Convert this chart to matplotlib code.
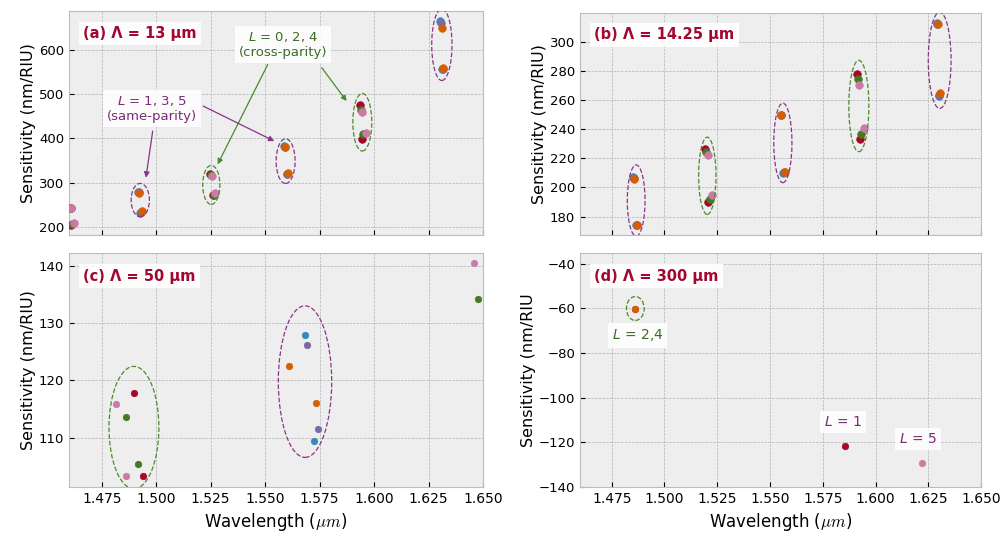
import matplotlib
matplotlib.use('Agg')
import matplotlib.pyplot as plt
from matplotlib.patches import Ellipse

# bmh colour cycle -> mode order L = 0..5
mode_colors = ['#348ABD', '#A60628', '#7A68A6', '#467821', '#D55E00', '#CC79A7']

# (a) Lambda = 13 um
a_wl = [1.4918, 1.4928, 1.5586, 1.5599, 1.6303, 1.6313,
        1.4609, 1.4610, 1.5246, 1.5260, 1.5935, 1.5946,
        1.4921, 1.4931, 1.5589, 1.5602, 1.6306, 1.6316,
        1.4606, 1.4612, 1.5250, 1.5264, 1.5940, 1.5951,
        1.4923, 1.4934, 1.5591, 1.5604, 1.6310, 1.6318,
        1.4611, 1.4622, 1.5256, 1.5270, 1.5946, 1.5964]
a_sens = [279.7, 232.4, 381.8, 319.4, 663.9, 555.2,
          243.5, 205.0, 319.4, 271.4, 474.7, 397.6,
          278.0, 234.0, 380.5, 320.5, 658.7, 557.0,
          243.0, 207.0, 317.0, 273.0, 463.5, 410.3,
          277.5, 235.4, 379.5, 321.6, 649.0, 559.0,
          244.0, 210.0, 314.9, 275.9, 459.0, 412.6]
a_mode = [0] * 6 + [1] * 6 + [2] * 6 + [3] * 6 + [4] * 6 + [5] * 6

# (b) Lambda = 14.25 um
b_wl = [1.4853, 1.4866, 1.5550, 1.5564, 1.6290, 1.6299,
        1.5191, 1.5208, 1.5911, 1.5925,
        1.4855, 1.4869, 1.5552, 1.5568, 1.6293, 1.6303,
        1.5197, 1.5214, 1.5916, 1.5930,
        1.4856, 1.4872, 1.5553, 1.5571, 1.6295, 1.6307,
        1.5205, 1.5224, 1.5921, 1.5944]
b_sens = [207.0, 174.5, 250.0, 209.9, 313.0, 262.7,
          226.2, 189.9, 277.9, 233.5,
          206.5, 174.4, 249.7, 210.3, 312.5, 263.7,
          224.2, 192.0, 274.4, 236.6,
          206.1, 174.3, 249.4, 210.8, 312.0, 264.8,
          222.1, 195.0, 270.3, 240.7]
b_mode = [0] * 6 + [1] * 4 + [2] * 6 + [3] * 4 + [4] * 6 + [5] * 4

# (c) Lambda = 50 um
c_wl = [1.5683, 1.5723, 1.4900, 1.4941, 1.5692, 1.5741,
        1.4862, 1.4918, 1.6478, 1.5608, 1.5732, 1.4814, 1.4862, 1.6459]
c_sens = [127.9, 109.4, 117.9, 103.3, 126.1, 111.6,
          113.6, 105.4, 134.2, 122.5, 116.1, 115.9, 103.3, 140.4]
c_mode = [0, 0, 1, 1, 2, 2, 3, 3, 3, 4, 4, 5, 5, 5]

# (d) Lambda = 300 um
d_wl = [1.5856, 1.4860, 1.4861, 1.6220]
d_sens = [-121.4, -60.2, -60.1, -129.3]
d_mode = [1, 2, 4, 5]

xticks = [1.475, 1.500, 1.525, 1.550, 1.575, 1.600, 1.625, 1.650]

GREEN = '#4b8a2c'
PURPLE = '#8a3486'
GREEN_TXT = '#3d6b25'
PURPLE_TXT = '#7a2a78'
TITLE_RED = '#a3062f'

plt.style.use('bmh')

fig = plt.figure(figsize=(10.03, 5.34), dpi=100)
ax_a = fig.add_axes([0.0688, 0.5599, 0.4128, 0.4195])
ax_b = fig.add_axes([0.5783, 0.5599, 0.3998, 0.4163])
ax_c = fig.add_axes([0.0688, 0.0880, 0.4128, 0.4388])
ax_d = fig.add_axes([0.5783, 0.0880, 0.3998, 0.4388])

panels = [
    (ax_a, a_wl, a_sens, a_mode, 30, '(a) Λ = 13 μm', 'Sensitivity (nm/RIU)'),
    (ax_b, b_wl, b_sens, b_mode, 30, '(b) Λ = 14.25 μm', 'Sensitivity (nm/RIU)'),
    (ax_c, c_wl, c_sens, c_mode, 22, '(c) Λ = 50 μm', 'Sensitivity (nm/RIU)'),
    (ax_d, d_wl, d_sens, d_mode, 22, '(d) Λ = 300 μm', 'Sensitivity (nm/RIU'),
]

for ax, wl, sens, mode, size, label, ylab in panels:
    for L in range(6):
        xs = [w for w, m in zip(wl, mode) if m == L]
        ys = [s for s, m in zip(sens, mode) if m == L]
        if xs:
            ax.scatter(xs, ys, s=size, color=mode_colors[L], zorder=3)
    ax.set_xlim(1.46, 1.65)
    ax.set_xticks(xticks)
    ax.set_ylabel(ylab, fontsize=11.5, labelpad=2)
    ax.tick_params(labelsize=9.5)
    ax.text(0.035, 0.9, label, transform=ax.transAxes, fontsize=10.5, fontweight='bold',
            color=TITLE_RED, va='center', ha='left', zorder=5,
            bbox=dict(boxstyle='square,pad=0.3', fc='white', ec='none', alpha=0.9))

ax_d.set_ylim(-140, -35)

for ax in (ax_a, ax_b):
    ax.tick_params(labelbottom=False)
for ax in (ax_c, ax_d):
    ax.set_xlabel(r'Wavelength ($\mu m$)', fontsize=12)
    ax.tick_params(axis='x', labelsize=10)

# grouping ellipses (centre x, centre y, width, height, colour)
ell_a = [(1.4927, 260.8, 0.0084, 75.0, PURPLE), (1.5253, 295.0, 0.0079, 87.8, GREEN),
         (1.5594, 348.6, 0.0087, 100.7, PURPLE), (1.5946, 436.2, 0.0087, 129.9, GREEN),
         (1.6311, 611.0, 0.0093, 161.5, PURPLE)]
ell_b = [(1.4866, 191.0, 0.0084, 48.9, PURPLE), (1.5203, 208.0, 0.0082, 53.0, GREEN),
         (1.5561, 230.6, 0.0086, 54.6, PURPLE), (1.5921, 255.9, 0.0095, 62.7, GREEN),
         (1.6304, 287.3, 0.0108, 66.1, PURPLE)]
ell_c = [(1.4898, 111.8, 0.0229, 21.3, GREEN), (1.5683, 119.8, 0.0245, 26.4, PURPLE)]
ell_d = [(1.4862, -60.0, 0.0084, 10.7, GREEN)]

for ax, ells in ((ax_a, ell_a), (ax_b, ell_b), (ax_c, ell_c), (ax_d, ell_d)):
    for cx, cy, w, h, col in ells:
        ax.add_patch(Ellipse((cx, cy), w, h, fill=False, ec=col, ls='--', lw=0.9, zorder=4))

box = dict(boxstyle='square,pad=0.3', fc='white', ec='none', alpha=0.85)

# (a) annotations
ax_a.text(1.5583, 611.4, '$L$ = 0, 2, 4\n(cross-parity)', ha='center', va='center', fontsize=9.5,
          color=GREEN_TXT, bbox=box, math_fontfamily='dejavusans', zorder=5)
ax_a.text(1.4980, 466.6, '$L$ = 1, 3, 5\n(same-parity)', ha='center', va='center', fontsize=9.5,
          color=PURPLE_TXT, bbox=box, math_fontfamily='dejavusans', zorder=5)
arrows_a = [((1.5512, 566.4), (1.5282, 341.2), GREEN), ((1.5760, 559.0), (1.5874, 483.8), GREEN),
            ((1.4984, 416.2), (1.4953, 311.2), PURPLE), ((1.5216, 472.5), (1.5542, 393.7), PURPLE)]
for start, end, col in arrows_a:
    ax_a.annotate('', xy=end, xytext=start,
                  arrowprops=dict(arrowstyle='-|>', color=col, lw=0.9, mutation_scale=8,
                                  shrinkA=0, shrinkB=0), zorder=4)

# (d) annotations
ax_d.text(1.4872, -72.1, '$L$ = 2,4', ha='center', va='center', fontsize=10, color=GREEN_TXT,
          bbox=box, math_fontfamily='dejavusans', zorder=5)
ax_d.text(1.5847, -110.9, '$L$ = 1', ha='center', va='center', fontsize=10, color=PURPLE_TXT,
          bbox=box, math_fontfamily='dejavusans', zorder=5)
ax_d.text(1.6201, -118.4, '$L$ = 5', ha='center', va='center', fontsize=10, color=PURPLE_TXT,
          bbox=box, math_fontfamily='dejavusans', zorder=5)

fig.savefig('out.png', dpi=100)
